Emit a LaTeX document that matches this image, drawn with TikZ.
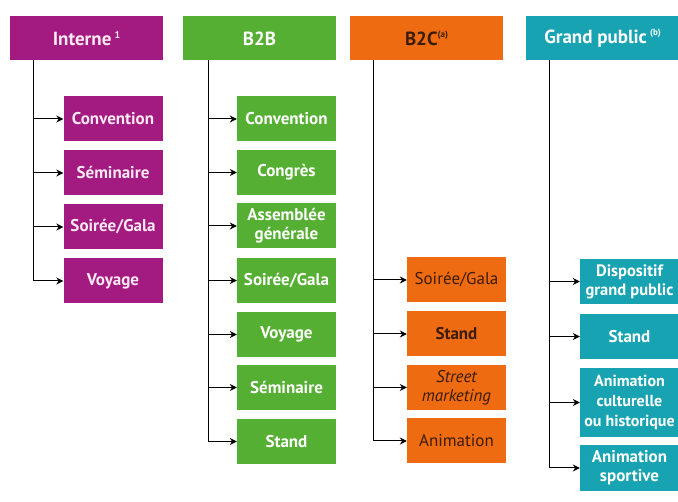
\documentclass[tikz,border=0pt]{standalone}
\usepackage{fontspec}
\setmainfont{PT Sans}
\usetikzlibrary{arrows.meta}
\definecolor{cmag}{HTML}{A31A80}
\definecolor{cgreen}{HTML}{55AF32}
\definecolor{corange}{HTML}{EE6B12}
\definecolor{cteal}{HTML}{18A3B3}
\definecolor{cdark}{HTML}{3A1C0A}
\definecolor{cpink}{HTML}{FBE9F4}
\begin{document}
\begin{tikzpicture}[x=1pt,y=-1pt,
  hdr/.style={minimum width=153pt, minimum height=44pt, inner sep=0pt, font=\bfseries\fontsize{19}{21}\selectfont},
  box/.style={minimum width=99pt, minimum height=45pt, inner sep=0pt, align=center, font=\bfseries\fontsize{17}{19}\selectfont},
  mag/.style={fill=cmag, text=cpink},
  grn/.style={fill=cgreen, text=white},
  org/.style={fill=corange, text=cdark},
  tea/.style={fill=cteal, text=white},
  link/.style={draw=black, line width=1pt},
  arr/.style={link, -{Stealth[length=7pt,width=7pt]}}]
\useasboundingbox (0,0) rectangle (678,502);
\clip (0,0) rectangle (678,502);
\fill[white] (0,0) rectangle (678,502);

% headers
\node[hdr,mag] (hi) at (86.5,38.5) {Interne\,\raisebox{0.7ex}{\fontsize{10}{10}\selectfont 1}};
\node[hdr,grn] (hb) at (259.5,38.5) {B2B};
\node[hdr,org] (hc) at (426.5,38.5) {B2C\raisebox{0.8ex}{\fontsize{9}{9}\selectfont (a)}};
\node[hdr,tea] (hg) at (602.5,38.5) {Grand public\,\raisebox{0.8ex}{\fontsize{9}{9}\selectfont (b)}};

% Interne
\node[box,mag] (i1) at (113,119) {Convention};
\node[box,mag] (i2) at (113,173) {Séminaire};
\node[box,mag] (i3) at (113,227) {Soirée/Gala};
\node[box,mag] (i4) at (113,281) {Voyage};

% B2B
\node[box,grn] (b1) at (286.5,119) {Convention};
\node[box,grn] (b2) at (286.5,172.5) {Congrès};
\node[box,grn] (b3) at (286.5,226) {Assemblée\\générale};
\node[box,grn] (b4) at (286.5,280.5) {Soirée/Gala};
\node[box,grn] (b5) at (286.5,334.5) {Voyage};
\node[box,grn] (b6) at (286.5,387.5) {Séminaire};
\node[box,grn] (b7) at (286.5,441.5) {Stand};

% B2C
\node[box,org,font=\fontsize{17}{19}\selectfont] (c1) at (456.5,280) {Soirée/Gala};
\node[box,org] (c2) at (456.5,334) {Stand};
\node[box,org,font=\itshape\fontsize{17}{19}\selectfont] (c3) at (456.5,387.5) {Street\\marketing};
\node[box,org,font=\fontsize{17}{19}\selectfont] (c4) at (456.5,441) {Animation};

% Grand public
\node[box,tea,font=\bfseries\fontsize{16.5}{19}\selectfont] (g1) at (629.5,281.5) {Dispositif\\grand public};
\node[box,tea] (g2) at (629.5,336.5) {Stand};
\node[box,tea,minimum height=69pt,font=\bfseries\fontsize{16}{20}\selectfont] (g3) at (629.5,402.5) {Animation\\culturelle\\ou historique};
\node[box,tea,minimum height=46pt] (g4) at (629.5,468) {Animation\\sportive};

% trunks
\coordinate (ti) at (33,60.5);
\coordinate (tb) at (208,60.5);
\coordinate (tc) at (373,60.5);
\coordinate (tg) at (549,60.5);

\draw[link] (ti) -- (ti |- i4.west);
\foreach \n in {i1,i2,i3,i4} \draw[arr] (ti |- \n.west) -- (\n.west);
\draw[link] (tb) -- (tb |- b7.west);
\foreach \n in {b1,b2,b3,b4,b5,b6,b7} \draw[arr] (tb |- \n.west) -- (\n.west);
\draw[link] (tc) -- (tc |- c4.west);
\foreach \n in {c1,c2,c3,c4} \draw[arr] (tc |- \n.west) -- (\n.west);
\draw[link] (tg) -- (tg |- g4.west);
\foreach \n in {g1,g2,g3,g4} \draw[arr] (tg |- \n.west) -- (\n.west);
\end{tikzpicture}
\end{document}
